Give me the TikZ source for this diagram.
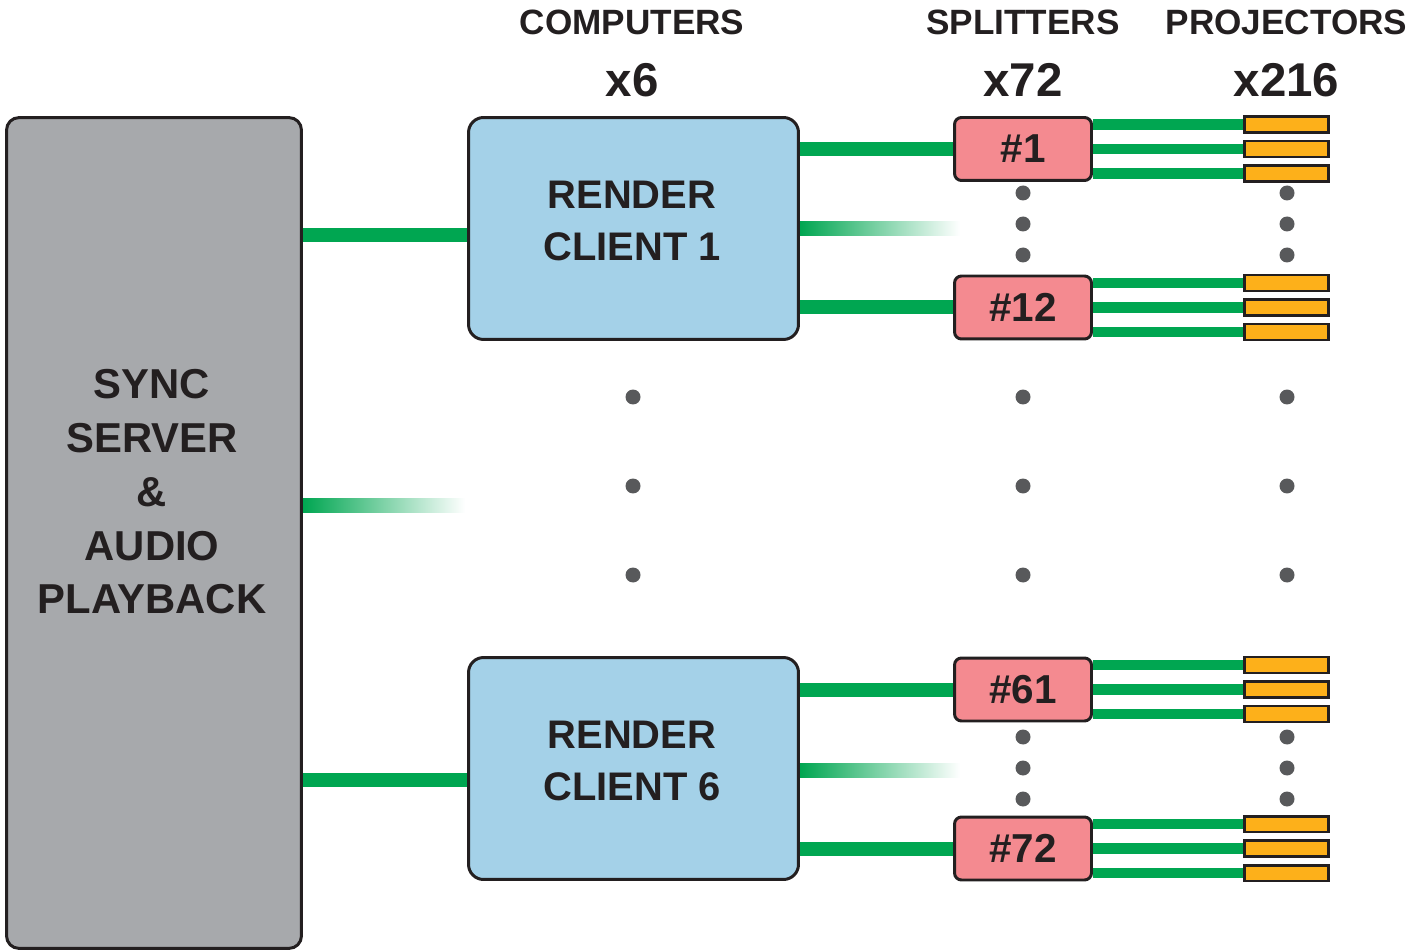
\documentclass[tikz,border=0pt]{standalone}
\usepackage{fontspec}
\setmainfont{Liberation Sans}
\usetikzlibrary{calc,backgrounds}

\definecolor{linkgreen}{HTML}{00A651}
\definecolor{projorange}{HTML}{FDB01A}
\definecolor{splitpink}{HTML}{F48A90}
\definecolor{clientblue}{HTML}{A4D1E8}
\definecolor{servergray}{HTML}{A7A9AC}
\definecolor{dotgray}{HTML}{58595B}
\definecolor{edge}{HTML}{231F20}

\tikzset{
  box/.style={draw=edge, line width=1.7pt, align=center, inner sep=0pt,
    text=edge, font=\bfseries},
  boxtext/.style={text=edge, align=center, inner sep=0pt},
  server/.style={box, fill=servergray, rounded corners=0.25cm,
    minimum width=5.9cm, minimum height=16.62cm},
  client/.style={box, fill=clientblue, rounded corners=0.3cm,
    minimum width=6.6cm, minimum height=4.44cm},
  clienttext/.style={boxtext, font=\bfseries\fontsize{22.7}{29.5}\selectfont},
  splitter/.style={box, fill=splitpink, rounded corners=0.14cm,
    minimum width=2.74cm, minimum height=1.26cm,
    font=\bfseries\fontsize{23}{27}\selectfont},
  projector/.style={box, fill=projorange, minimum width=1.68cm, minimum height=0.32cm},
  link/.style={linkgreen, line width=0.28cm},
  plink/.style={linkgreen, line width=0.21cm},
  fadelink/.style={left color=linkgreen, right color=white},
  heading/.style={text=edge, font=\bfseries\fontsize{20}{24}\selectfont},
  count/.style={text=edge, font=\bfseries\fontsize{27}{32}\selectfont}
}

\begin{document}
\begin{tikzpicture}[x=0.02cm, y=-0.02cm]
\useasboundingbox (0,0) rectangle (1412,952);

% column headings
\node[heading] (hcomp) at (632,22) {COMPUTERS};
\node[count] (ncomp) at (632,80) {x6};
\node[heading] (hsplit) at (1023,22) {SPLITTERS};
\node[count] (nsplit) at (1023,80) {x72};
\node[heading] (hproj) at (1286.5,22) {PROJECTORS};
\node[count] (nproj) at (1286.5,80) {x216};

% boxes
\node[server] (srv) at (154,533) {};
\node[boxtext, font=\bfseries\fontsize{23.8}{30.6}\selectfont]
  (srvlabel) at (152,492) {SYNC\\SERVER\\\&\\AUDIO\\PLAYBACK};
\node[client] (c1) at (633.5,228.5) {};
\node[clienttext] (c1label) at (632,221) {RENDER\\CLIENT 1};
\node[client] (c6) at (633.5,768.5) {};
\node[clienttext] (c6label) at (632,761) {RENDER\\CLIENT 6};

\foreach \nm/\lab/\yy in {s1/\#1/149, s12/\#12/307.5, s61/\#61/689.5, s72/\#72/848.5}
{
  \node[splitter] (\nm) at (1023,\yy) {\lab};
  \foreach \k/\dy in {a/-24.5, b/0, c/24.5}
    \node[projector] (\nm\k) at (1286.5,\yy+\dy) {};
}

\coordinate (in1) at (0,235);
\coordinate (in6) at (0,780);
\coordinate (fs1) at (0,498);
\coordinate (fs2) at (465,512);
\coordinate (fa1) at (0,222);
\coordinate (fa2) at (960,236);
\coordinate (fb1) at (0,763);
\coordinate (fb2) at (960,777);

\begin{scope}[on background layer]
  % server to clients
  \draw[link] (srv.east |- in1) -- (c1.west |- in1);
  \draw[link] (srv.east |- in6) -- (c6.west |- in6);
  \shade[fadelink] (srv.east |- fs1) rectangle (fs2);
  % clients to splitters
  \draw[link] (c1.east |- s1.west) -- (s1.west);
  \draw[link] (c1.east |- s12.west) -- (s12.west);
  \draw[link] (c6.east |- s61.west) -- (s61.west);
  \draw[link] (c6.east |- s72.west) -- (s72.west);
  \shade[fadelink] (c1.east |- fa1) rectangle (fa2);
  \shade[fadelink] (c6.east |- fb1) rectangle (fb2);
  % splitters to projectors
  \foreach \nm in {s1,s12,s61,s72}
    \foreach \k in {a,b,c}
      \draw[plink] (\nm.east |- \nm\k.west) -- (\nm\k.west);
\end{scope}

% dots
\foreach \xx in {1023,1287}
  \foreach \yy in {193,224,255,737,768,799}
    \fill[dotgray] (\xx,\yy) circle[radius=0.15cm];
\foreach \xx in {633,1023,1287}
  \foreach \yy in {397,486,575}
    \fill[dotgray] (\xx,\yy) circle[radius=0.15cm];
\end{tikzpicture}
\end{document}
